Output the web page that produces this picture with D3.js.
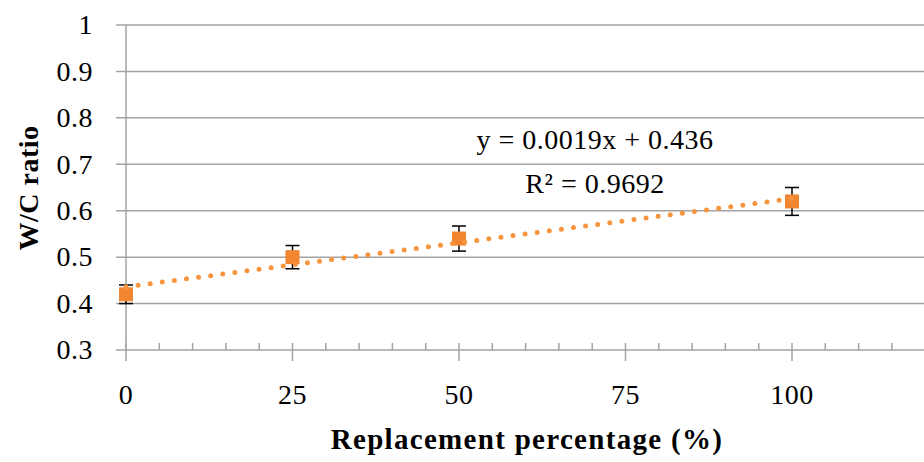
<!DOCTYPE html>
<html>
<head>
<meta charset="utf-8">
<script src="https://cdn.jsdelivr.net/npm/d3@7"></script>
<style>
  body { margin: 0; background: #fff; }
  svg text { font-family: "Palatino Linotype", "Book Antiqua", Palatino, "Liberation Serif", serif; fill: #000; }
</style>
</head>
<body>
<div id="chart"></div>
<script>

// replacement percentage vs W/C ratio
const replacement = [0, 25, 50, 100];
const wcRatio = [0.42, 0.50, 0.54, 0.62];
const wcError = [0.02, 0.025, 0.027, 0.03];

const yTicks = [0.3, 0.4, 0.5, 0.6, 0.7, 0.8, 0.9, 1];
const xTicks = [0, 25, 50, 75, 100];
const xMinorTicks = d3.range(0, 121, 5);

const slope = 0.0019, intercept = 0.436, r2 = 0.9692;

const width = 924, height = 462;
const margin = { top: 25, right: 0, bottom: 112, left: 126 };

const svg = d3.select("#chart")
    .append("svg")
    .attr("width", width)
    .attr("height", height);

const x = d3.scaleLinear()
    .domain([0, 120])
    .range([margin.left, margin.left + 6.66 * 120]);

const y = d3.scaleLinear()
    .domain([0.3, 1])
    .range([height - margin.bottom, margin.top]);

const gridColor = "#a3a3a3";
const labelSize = "28px";

// horizontal gridlines, with the little stub on the left
svg.append("g")
    .selectAll("line")
    .data(yTicks)
    .enter()
    .append("line")
    .attr("x1", margin.left - 10)
    .attr("x2", width)
    .attr("y1", d => y(d))
    .attr("y2", d => y(d))
    .style("stroke", gridColor)
    .style("stroke-width", 1.5);

// y axis line
svg.append("line")
    .attr("x1", x(0)).attr("x2", x(0))
    .attr("y1", y(1)).attr("y2", y(0.3))
    .style("stroke", gridColor)
    .style("stroke-width", 1.5);

// x minor ticks (above axis)
svg.append("g")
    .selectAll("line")
    .data(xMinorTicks.filter(d => d % 25 !== 0))
    .enter()
    .append("line")
    .attr("x1", d => x(d)).attr("x2", d => x(d))
    .attr("y1", y(0.3) - 7).attr("y2", y(0.3))
    .style("stroke", gridColor)
    .style("stroke-width", 1.5);

// x major ticks (crossing axis)
svg.append("g")
    .selectAll("line")
    .data(xTicks)
    .enter()
    .append("line")
    .attr("x1", d => x(d)).attr("x2", d => x(d))
    .attr("y1", y(0.3) - 7).attr("y2", y(0.3) + 11)
    .style("stroke", gridColor)
    .style("stroke-width", 1.5);

// y tick labels
svg.append("g")
    .selectAll("text")
    .data(yTicks)
    .enter()
    .append("text")
    .attr("x", 93)
    .attr("y", d => y(d))
    .attr("dy", "0.33em")
    .attr("text-anchor", "end")
    .style("font-size", labelSize)
    .style("letter-spacing", "0.5px")
    .text(d => d);

// x tick labels
svg.append("g")
    .selectAll("text")
    .data(xTicks)
    .enter()
    .append("text")
    .attr("x", d => x(d))
    .attr("y", 404)
    .attr("text-anchor", "middle")
    .style("font-size", labelSize)
    .style("letter-spacing", "0.5px")
    .text(d => d);

// axis titles
svg.append("text")
    .attr("transform", "translate(38," + 188 + ") rotate(-90)")
    .attr("text-anchor", "middle")
    .style("font-size", "28px")
    .style("font-weight", "bold")
    .style("letter-spacing", "0.5px")
    .text("W/C ratio");

svg.append("text")
    .attr("x", 527)
    .attr("y", 449)
    .attr("text-anchor", "middle")
    .style("font-size", "29px")
    .style("font-weight", "bold")
    .style("letter-spacing", "1.3px")
    .text("Replacement percentage (%)");

// error bars
const points = replacement.map((r, i) => ({ x: r, y: wcRatio[i], e: wcError[i] }));

const err = svg.append("g")
    .selectAll("g")
    .data(points)
    .enter()
    .append("g")
    .style("stroke", "#000")
    .style("stroke-width", 1.5);

err.append("line")
    .attr("x1", d => x(d.x)).attr("x2", d => x(d.x))
    .attr("y1", d => y(d.y - d.e)).attr("y2", d => y(d.y + d.e));
err.append("line")
    .attr("x1", d => x(d.x) - 7).attr("x2", d => x(d.x) + 7)
    .attr("y1", d => y(d.y + d.e)).attr("y2", d => y(d.y + d.e));
err.append("line")
    .attr("x1", d => x(d.x) - 7).attr("x2", d => x(d.x) + 7)
    .attr("y1", d => y(d.y - d.e)).attr("y2", d => y(d.y - d.e));

// markers
svg.append("g")
    .selectAll("rect")
    .data(points)
    .enter()
    .append("rect")
    .attr("x", d => x(d.x) - 7)
    .attr("y", d => y(d.y) - 7)
    .attr("width", 14)
    .attr("height", 14)
    .style("fill", "#F2852F");

// linear trendline, dotted
const trend = [0, 100].map(v => ({ x: v, y: slope * v + intercept }));
svg.append("path")
    .datum(trend)
    .attr("d", d3.line().x(d => x(d.x)).y(d => y(d.y)))
    .style("fill", "none")
    .style("stroke", "#F7953F")
    .style("stroke-width", 5)
    .style("stroke-linecap", "round")
    .style("stroke-dasharray", "0 12.2");

// equation label
svg.append("text")
    .attr("x", 595)
    .attr("y", 149)
    .attr("text-anchor", "middle")
    .style("font-size", labelSize)
    .style("letter-spacing", "0.5px")
    .text("y = " + slope + "x + " + intercept);

svg.append("text")
    .attr("x", 595)
    .attr("y", 193)
    .attr("text-anchor", "middle")
    .style("font-size", labelSize)
    .style("letter-spacing", "0.5px")
    .text("R² = " + r2);

</script>
</body>
</html>
